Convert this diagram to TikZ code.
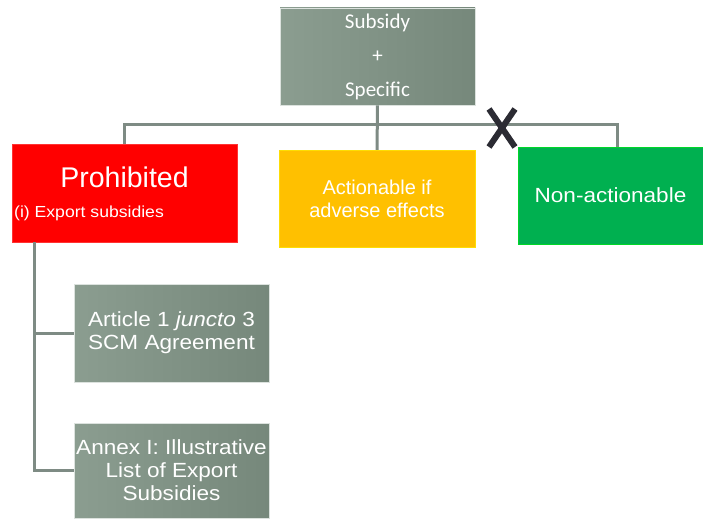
\documentclass[tikz,border=0pt]{standalone}
\usepackage{fontspec}
\setmainfont{Liberation Sans}
\newfontfamily\widesans[FakeStretch=1.1]{Liberation Sans}
\newfontfamily\calib{Carlito}
\usepackage{xcolor}
\usetikzlibrary{positioning, calc}

\definecolor{boxgrayL}{HTML}{8B9D90}
\definecolor{boxgrayR}{HTML}{76887B}
\definecolor{linkgray}{HTML}{7E8B84}
\definecolor{prohred}{HTML}{FF0000}
\definecolor{actyellow}{HTML}{FFC000}
\definecolor{nongreen}{HTML}{00B050}
\definecolor{crossdark}{HTML}{2B2B33}

\begin{document}
\begin{tikzpicture}[x=1pt, y=-1pt,
        box/.style={rectangle, inner sep=0pt, align=center, text=white, font=\widesans\fontsize{20.5}{23}\selectfont},
        graybox/.style={box, left color=boxgrayL, right color=boxgrayR, draw=white!70!boxgrayL, line width=0.8pt},
        link/.style={draw=linkgray, line width=3pt},
        cross/.style={draw=crossdark, line width=6pt}
    ]
    \useasboundingbox (0,0) rectangle (703,519);

    % Top box
    \node[graybox, minimum width=195, minimum height=97, font=\calib\fontsize{21}{34}\selectfont] (subsidy) at (377.5,56.5) {Subsidy\\+\\Specific};

    % Categories
    \node[box, fill=prohred, draw=red!80!white, minimum width=225, minimum height=98] (prohib) at (124.5,193) {};
    \node[text=white, font=\fontsize{28.5}{32}\selectfont] (prohibtitle) at (124.5,177) {Prohibited};
    \node[text=white, font=\widesans\fontsize{16}{18}\selectfont, anchor=west, inner sep=0pt] (prohibsub) at (14,213) {(i) Export subsidies};

    \node[box, fill=actyellow, draw=yellow!60!actyellow, minimum width=196, minimum height=97, font=\fontsize{20}{23}\selectfont] (action) at (377,198.5) {Actionable if\\adverse effects};
    \node[box, fill=nongreen, draw=green!50!nongreen, minimum width=185, minimum height=97] (nonact) at (610.5,195.5) {Non-actionable};

    % Sources
    \node[graybox, minimum width=195, minimum height=98] (article) at (171.5,333) {Article 1 \textit{juncto} 3\\SCM Agreement};
    \node[graybox, minimum width=195, minimum height=95] (annex) at (171.5,470.5) {Annex I: Illustrative\\List of Export\\Subsidies};

    % Connections
    \coordinate (bus) at (377,124);
    \draw[link] (subsidy) -- (action);
    \draw[link] (bus) -| (prohib);
    \draw[link] (bus) -| ([xshift=7]nonact.north);

    \coordinate (trunk) at ([xshift=23]prohib.south west);
    \draw[link] (trunk) |- (article.west);
    \draw[link] (trunk) |- (annex.west);

    % Excluded
    \coordinate (crossmid) at (502,128);
    \draw[cross] ($(crossmid)+(-13,-19)$) -- ($(crossmid)+(13,19)$);
    \draw[cross] ($(crossmid)+(13,-19)$) -- ($(crossmid)+(-13,19)$);

\end{tikzpicture}
\end{document}
